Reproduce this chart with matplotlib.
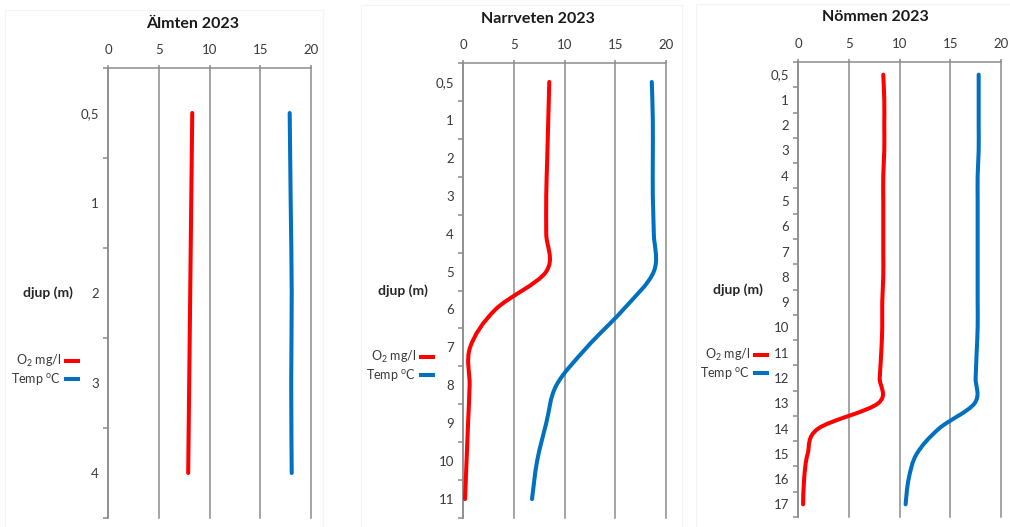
import matplotlib
matplotlib.use("Agg")
import matplotlib.pyplot as plt
from matplotlib.path import Path
from matplotlib.patches import PathPatch, Rectangle
from matplotlib.lines import Line2D
from matplotlib.ticker import FixedLocator

plt.rcParams['font.family'] = ['Lato', 'DejaVu Sans']
plt.rcParams['mathtext.fontset'] = 'custom'
plt.rcParams['mathtext.rm'] = 'Lato'
plt.rcParams['mathtext.it'] = 'Lato:italic'
plt.rcParams['mathtext.bf'] = 'Lato:bold'

# ---- data ----
almten_depth = ["0,5", "1", "2", "3", "4"]
almten_o2 = [8.3, 8.2, 8.1, 8.0, 7.9]
almten_temp = [17.9, 18.0, 18.1, 18.05, 18.1]

narrveten_depth = ["0,5", "1", "2", "3", "4", "5", "6", "7", "8", "9", "10", "11"]
narrveten_o2 = [8.5, 8.4, 8.3, 8.2, 8.2, 8.2, 3.2, 0.7, 0.65, 0.5, 0.35, 0.2]
narrveten_temp = [18.6, 18.7, 18.7, 18.7, 18.8, 18.8, 15.8, 12.2, 9.2, 8.2, 7.3, 6.8]

nommen_depth = ["0,5", "1", "2", "3", "4", "5", "6", "7", "8", "9", "10",
                "11", "12", "13", "14", "15", "16", "17"]
nommen_o2 = [8.4, 8.5, 8.5, 8.5, 8.4, 8.4, 8.4, 8.4, 8.4, 8.3, 8.3,
             8.2, 8.05, 7.9, 2.0, 0.95, 0.6, 0.5]
nommen_temp = [17.8, 17.8, 17.8, 17.8, 17.7, 17.7, 17.7, 17.7, 17.7, 17.7, 17.7,
               17.6, 17.5, 17.4, 13.9, 11.7, 10.9, 10.6]

titles = ["Älmten 2023", "Narrveten 2023", "Nömmen 2023"]
x_ticks = [0, 5, 10, 15, 20]
y_label = "djup (m)"
o2_label = r"O$_{2}$ mg/l"
temp_label = r"Temp $^{\mathrm{o}}$C"

# ---- style ----
W, H = 1010, 527
RED = "#FF0000"
BLUE = "#0070C0"
GRID = "#8C8C8C"
TXT = "#3a3a3a"
LW = 2.9

fig = plt.figure(figsize=(W / 100, H / 100), dpi=100)
fig.patch.set_facecolor("white")

# faint chart-area borders
for (x0, y0, x1, y1) in [(5, 10, 323, 530), (361, 5, 682, 530), (696, 4, 1012, 530)]:
    fig.add_artist(Rectangle((x0 / W, 1 - y1 / H), (x1 - x0) / W, (y1 - y0) / H,
                             transform=fig.transFigure, fill=False,
                             edgecolor="#F4F4F4", lw=0.8))

panels = [
    dict(box=(108, 68, 311, 518), depth=almten_depth, o2=almten_o2, temp=almten_temp,
         title=titles[0], tpos=(193, 24), leg=(78, 370)),
    dict(box=(463, 63, 666, 518), depth=narrveten_depth, o2=narrveten_o2, temp=narrveten_temp,
         title=titles[1], tpos=(538, 19), leg=(433, 366)),
    dict(box=(798, 62, 1001, 517), depth=nommen_depth, o2=nommen_o2, temp=nommen_temp,
         title=titles[2], tpos=(875, 17), leg=(767, 364)),
]


def smooth_path(xs, ys):
    """Catmull-Rom style Bezier path through data points (Excel smoothed line)."""
    n = len(xs)
    pts = list(zip(xs, ys))
    verts = [pts[0]]
    codes = [Path.MOVETO]
    for i in range(n - 1):
        p0 = pts[i - 1] if i > 0 else pts[i]
        p1 = pts[i]
        p2 = pts[i + 1]
        p3 = pts[i + 2] if i + 2 < n else pts[i + 1]
        c1 = (p1[0] + (p2[0] - p0[0]) / 6.0, p1[1] + (p2[1] - p0[1]) / 6.0)
        c2 = (p2[0] - (p3[0] - p1[0]) / 6.0, p2[1] - (p3[1] - p1[1]) / 6.0)
        verts += [c1, c2, p2]
        codes += [Path.CURVE4] * 3
    return Path(verts, codes)


for p in panels:
    x0, y0, x1, y1 = p["box"]
    ax = fig.add_axes([x0 / W, 1 - y1 / H, (x1 - x0) / W, (y1 - y0) / H])
    n = len(p["depth"])
    idx = list(range(n))
    ax.set_xlim(0, 20)
    ax.set_ylim(n - 0.5, -0.5)

    for vals, col in [(p["o2"], RED), (p["temp"], BLUE)]:
        patch = PathPatch(smooth_path(vals, idx), fill=False, edgecolor=col, lw=LW,
                          capstyle="round", joinstyle="round", zorder=3)
        ax.add_patch(patch)

    # x axis on top
    ax.xaxis.tick_top()
    ax.set_xticks(x_ticks)
    ax.set_xticklabels([str(v) for v in x_ticks])
    ax.tick_params(axis="x", which="major", length=2, width=1.1, color=GRID,
                   pad=6.5, labelsize=9.5, labelcolor=TXT)
    ax.grid(axis="x", color=GRID, lw=1.1, zorder=1)
    for gl in ax.get_xgridlines():
        gl.set_clip_on(False)

    # category y axis
    ax.set_yticks(idx)
    ax.set_yticklabels(p["depth"])
    ax.yaxis.set_minor_locator(FixedLocator([i - 0.5 for i in range(n + 1)]))
    ax.tick_params(axis="y", which="major", length=0, pad=6.5, labelsize=9.5, labelcolor=TXT)
    ax.tick_params(axis="y", which="minor", length=3.6, width=1.1, color=GRID)

    for side in ["right", "bottom"]:
        ax.spines[side].set_visible(False)
    for side in ["left", "top"]:
        ax.spines[side].set_color(GRID)
        ax.spines[side].set_linewidth(1.1)
    ax.set_facecolor("none")

    # horizontal y-axis label
    ax.text(-35 / (x1 - x0), 0.5, y_label, transform=ax.transAxes, ha="right",
            va="center", fontsize=10, fontweight="bold", color="#262626")

    # title
    fig.text(p["tpos"][0] / W, 1 - p["tpos"][1] / H, p["title"], ha="center",
             va="center", fontsize=11.5, fontweight="bold", color="#1a1a1a")

    # legend
    handles = [Line2D([], [], color=RED, lw=LW), Line2D([], [], color=BLUE, lw=LW)]
    lx, ly = p["leg"]
    ax.legend(handles, [o2_label, temp_label], loc="center right",
              bbox_to_anchor=(lx / W, 1 - ly / H), bbox_transform=fig.transFigure,
              frameon=False, markerfirst=False, handlelength=1.0, handletextpad=0.35,
              labelspacing=0.15, borderpad=0, borderaxespad=0, fontsize=9,
              labelcolor=TXT)

fig.savefig("out.png", dpi=100, facecolor="white")
